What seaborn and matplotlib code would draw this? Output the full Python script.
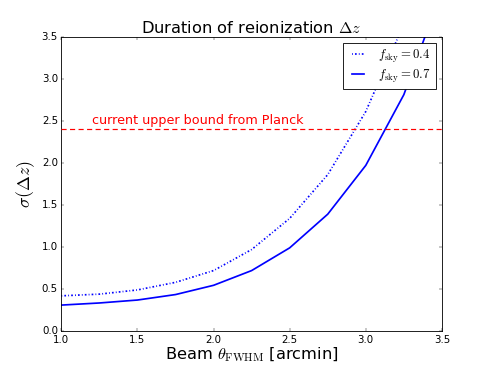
import numpy as np
import pandas as pd
import matplotlib
matplotlib.use('Agg')
import matplotlib.pyplot as plt
import seaborn as sns

# values
beam = [1.0, 1.25, 1.5, 1.75, 2.0, 2.25, 2.5, 2.75, 3.0, 3.25, 3.5]
sigma_fsky04 = [0.42, 0.44, 0.49, 0.58, 0.72, 0.97, 1.34, 1.86, 2.61, 3.65, 5.0]
sigma_fsky07 = [0.31, 0.335, 0.37, 0.435, 0.545, 0.72, 0.99, 1.39, 1.97, 2.81, 4.05]
planck_bound = 2.4

plt.style.use('classic')
plt.rcParams['mathtext.fontset'] = 'cm'
plt.rcParams['font.family'] = ['DejaVu Sans']

df = pd.DataFrame({'beam': beam, 'f04': sigma_fsky04, 'f07': sigma_fsky07})

fig, ax = plt.subplots(figsize=(8, 6), dpi=61.375)
fig.patch.set_facecolor('white')

sns.lineplot(data=df, x='beam', y='f04', ax=ax, color='#0000ff', lw=2,
             linestyle=(0, (1, 2.5, 2, 2.5)),
             label=r'$f_{\rm sky}=0.4$')
sns.lineplot(data=df, x='beam', y='f07', ax=ax, color='#0000ff', lw=2,
             label=r'$f_{\rm sky}=0.7$')

# Planck bound
ax.hlines(planck_bound, 1.0, 3.5, colors='red', linestyles=(0, (6, 4)),
          lw=1.4, zorder=3)
ax.text(1.2, planck_bound + 0.03, 'current upper bound from Planck',
        color='red', fontsize=15, va='bottom')

ax.set_xlim(1.0, 3.5)
ax.set_ylim(0.0, 3.5)
ax.set_xticks(np.arange(1.0, 3.51, 0.5))
ax.set_yticks(np.arange(0.0, 3.51, 0.5))
ax.set_title(r'Duration of reionization $\Delta z$', fontsize=19)
ax.set_xlabel(r'Beam $\theta_{\rm FWHM}$ [arcmin]', fontsize=19, labelpad=1)
ax.set_ylabel(r'$\sigma(\Delta z)$', fontsize=21)
ax.legend(loc='upper right', fontsize=15, handlelength=1.6,
          labelspacing=0.25, borderpad=0.35)

fig.savefig('out.png', dpi=61.375, facecolor='white')
